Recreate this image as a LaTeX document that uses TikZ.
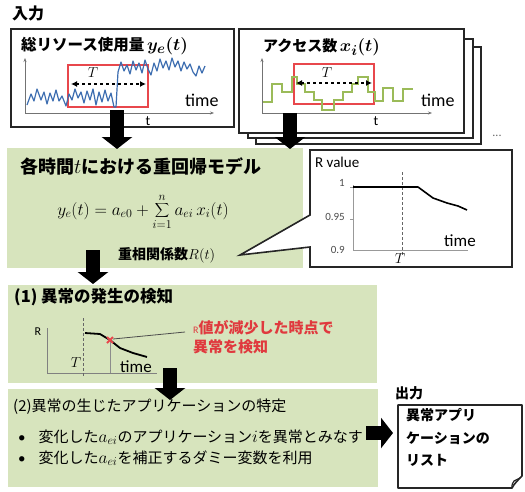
\documentclass[tikz,border=0pt]{standalone}
\usepackage{fontspec}
\setmainfont{Carlito}
\newfontfamily\jp{Noto Sans CJK JP}
\usetikzlibrary{arrows.meta}
\definecolor{gfill}{HTML}{D7E4BD}
\definecolor{bline}{HTML}{3C6DB0}
\definecolor{gline}{HTML}{9BBB59}
\definecolor{rred}{HTML}{E8474C}
\definecolor{rtext}{HTML}{E0393E}
\newcommand\myfs[1]{\fontsize{#1}{#1}\selectfont}
\tikzset{
  frame/.style={draw=black!85, line width=1.6pt, fill=white, inner sep=0pt, anchor=north west},
  greenbox/.style={fill=gfill, draw=none, inner sep=0pt, anchor=north west},
  bigarrow/.style={line width=14pt, black, -{Triangle[width=30pt,length=12pt]}},
  axisline/.style={draw=black!55, line width=0.8pt},
  axisarrow/.style={draw=black!55, line width=0.8pt, -{Stealth[length=4pt,width=3pt]}},
  redrect/.style={draw=rred, line width=1.2pt},
  dashdbl/.style={dashed, line width=1.6pt, {Latex[length=6pt,width=6pt]}-{Latex[length=6pt,width=6pt]}},
  lbl/.style={inner sep=0pt, anchor=west},
}
\begin{document}
\begin{tikzpicture}[x=1pt,y=-1pt]
\useasboundingbox (0,0) rectangle (525,491);
\fill[white] (0,0) rectangle (525,491);

% ---------- input ----------
\node[lbl] (inlbl) at (12,13) {\myfs{16}\jp\bfseries 入力};

% box 1
\node[frame, minimum width=223pt, minimum height=98pt] (box1) at (10,28) {};
\node[lbl] (t1) at (21,46) {\myfs{15.5}{\jp\bfseries 総リソース使用量}\,{\myfs{19}\boldmath$y_e(t)$}};
\draw[axisarrow] (25,113) -- (25,58);
\draw[axisarrow] (25,113) -- (214,113);
\draw[redrect] (68,65) rectangle (148,107);
\draw[bline, line width=1.2pt, line join=round]
 (27,105) -- (31,94) -- (34,101) -- (37,89) -- (41,100) -- (44,92) -- (47,104) -- (50,93) -- (53,101) -- (56,90) -- (59,101) -- (62,96) -- (66,106) -- (69,94) -- (72,100) -- (75,89) -- (78,98) -- (81,92) -- (84,103) -- (87,91) -- (90,100) -- (93,89) -- (96,105) -- (99,92) -- (102,102) -- (105,90) -- (108,101) -- (111,93) -- (114,107) -- (116,107) -- (118,72)
 -- (121,62) -- (124,71) -- (127,65) -- (130,74) -- (133,61) -- (136,70) -- (139,63) -- (142,73) -- (145,60) -- (148,69) -- (151,75) -- (154,63) -- (157,71) -- (160,59) -- (163,68) -- (166,61) -- (169,70) -- (172,58) -- (175,67) -- (178,61) -- (181,71) -- (184,62) -- (187,69) -- (190,64) -- (193,72) -- (196,76) -- (199,66) -- (202,73) -- (205,66);
\draw[dashdbl] (71,84) -- (146,84);
\node[inner sep=0pt] (T1) at (93,73) {\myfs{14}$T$};
\node[lbl] (time1) at (185,100) {\myfs{18}time};
\node[inner sep=0pt] (tt1) at (148,121) {\myfs{14}t};

% box 2 stack
\node[frame, minimum width=225pt, minimum height=97pt] (box2c) at (255,46) {};
\node[frame, minimum width=225pt, minimum height=99pt] (box2b) at (247,38) {};
\node[frame, minimum width=225pt, minimum height=104pt] (box2) at (238,28) {};
\node[lbl] (t2) at (263,47) {\myfs{15}{\jp\bfseries アクセス数}\,{\myfs{19}\boldmath$x_i(t)$}};
\draw[axisarrow] (262,113) -- (262,58);
\draw[axisarrow] (262,113) -- (432,113);
\draw[redrect] (294,64) rectangle (374,104);
\draw[gline, line width=1.2pt]
 (263,102) -- (272,102) -- (272,84) -- (282,84) -- (282,92) -- (292,92) -- (292,77) -- (297,77) -- (297,84) -- (305,84) -- (305,92) -- (314,92) -- (314,100) -- (322,100) -- (322,110) -- (334,110) -- (334,100) -- (343,100) -- (343,92) -- (352,92) -- (352,84) -- (358,84) -- (358,77) -- (368,77) -- (368,92) -- (375,92) -- (375,101) -- (383,101) -- (383,88) -- (393,88) -- (393,101) -- (403,101) -- (403,89) -- (413,89);
\draw[dashdbl] (296,83) -- (372,83);
\node[inner sep=0pt] (T2) at (327,73) {\myfs{14}$T$};
\node[lbl] (time2) at (421,100) {\myfs{18}time};
\node[inner sep=0pt] (tt2) at (376,121) {\myfs{14}t};
\node[inner sep=0pt] (dots) at (497,136) {\myfs{12}\textcolor{black!60}{...}};

% ---------- green 1 ----------
\node[greenbox, minimum width=296pt, minimum height=120pt] (green1) at (7,148) {};
\node[lbl] (g1t) at (20,166) {\myfs{18}{\jp\bfseries 各時間}{\myfs{20}$t$}{\jp\bfseries における重回帰モデル}};
\node[inner sep=0pt] (formula) at (143,212) {\myfs{17.28}$\displaystyle y_e(t) = a_{e0} + \sum_{i=1}^{n} a_{ei}\,x_i(t)$};
\node[lbl] (rt) at (118,255) {\myfs{14}{\jp\bfseries 重相関係数}{\myfs{15}$R(t)$}};

% R value callout
\draw[draw=black!85, line width=1.6pt, fill=white, line join=miter]
 (310,150) -- (512,150) -- (512,267) -- (310,267) -- (310,247) -- (240,255) -- (310,215) -- cycle;
\coordinate (rbox) at (411,208);
\node[lbl] (rv) at (315,162) {\myfs{15}R value};
\draw[axisline, black!40] (353,185) -- (353,250) -- (468,250);
\draw[black!40] (350,187) -- (353,187) (350,219) -- (353,219);
\node[inner sep=0pt, anchor=east] (l1) at (345,183) {\myfs{11}\textcolor{black!70}{1}};
\node[inner sep=0pt, anchor=east] (l095) at (345,217) {\myfs{11}\textcolor{black!70}{0.95}};
\node[inner sep=0pt, anchor=east] (l09) at (345,250) {\myfs{11}\textcolor{black!70}{0.9}};
\draw[densely dashed, black!60, line width=0.8pt] (402,172) -- (402,256);
\draw[line width=1.6pt, line join=round] (353,187) -- (418,187) -- (433,198) -- (447,203) -- (458,206) -- (467,210);
\node[inner sep=0pt] (Tr) at (400,259) {\myfs{14}$T$};
\node[lbl] (timer) at (444,241) {\myfs{17}time};

% ---------- green 2 ----------
\node[greenbox, minimum width=369pt, minimum height=98pt] (green2) at (8,285) {};
\node[lbl] (g2t) at (14,297) {\myfs{16.5}\jp\bfseries (1) 異常の発生の検知};
\node[inner sep=0pt] (Rl) at (38,332) {\myfs{12}R};
\draw[axisline, black!50] (47,328) -- (47,373) -- (157,373);
\draw[densely dashed, black!60, line width=0.8pt] (83,318) -- (83,377);
\draw[black!45, line width=0.6pt] (110,340) -- (110,373);
\draw[line width=1.8pt, line join=round] (85,333) -- (100,334) -- (110,340) -- (120,348) -- (133,353) -- (147,357);
\draw[black!70, line width=0.8pt] (113,339) -- (185,332);
\draw[rred, line width=1.8pt] (107,337) -- (113,343) (107,343) -- (113,337);
\node[inner sep=0pt] (T3) at (76,363) {\myfs{14}$T$};
\node[lbl] (time3) at (120,367) {\myfs{17}time};
\node[lbl] (rtext1) at (193,328) {\myfs{15}\color{rtext}{\myfs{10}R}{\jp\bfseries 値が減少した時点で}};
\node[lbl] (rtext2) at (193,347) {\myfs{15}\color{rtext}\jp\bfseries 異常を検知};

% ---------- green 3 ----------
\node[greenbox, minimum width=370pt, minimum height=98pt] (green3) at (8,389) {};
\node[lbl] (g3t) at (13,407) {\myfs{15}\jp (2)異常の生じたアプリケーションの特定};
\node[lbl] (b1) at (18,437) {\myfs{15}\textbullet\hspace{13pt}{\jp 変化した}{\myfs{17.28}$a_{ei}$}{\jp のアプリケーション}{\myfs{17.28}$i$}{\jp を異常とみなす}};
\node[lbl] (b2) at (18,458) {\myfs{15}\textbullet\hspace{13pt}{\jp 変化した}{\myfs{17.28}$a_{ei}$}{\jp を補正するダミー変数を利用}};

% ---------- output ----------
\node[lbl] (outlbl) at (395,393) {\myfs{14}\jp\bfseries 出力};
\draw[draw=black!85, line width=1.6pt, fill=white, line join=round]
 (398,405) -- (522,405) -- (522,476) .. controls (518,480) and (514,484) .. (512,488) -- (398,488) -- cycle;
\draw[black!85, line width=1.2pt] (512,488) .. controls (512,484) .. (514,481) -- (520,478);
\coordinate (outbox) at (460,446);
\node[lbl] (o1) at (406,415) {\myfs{14}\jp\bfseries 異常アプリ};
\node[lbl] (o2) at (406,438) {\myfs{14}\jp\bfseries ケーションの};
\node[lbl] (o3) at (406,460) {\myfs{14}\jp\bfseries リスト};

% ---------- big arrows ----------
\coordinate (a1s) at (117,110); \coordinate (a1e) at (117,149);
\coordinate (a2s) at (290,113); \coordinate (a2e) at (290,149);
\coordinate (a3s) at (93,250);  \coordinate (a3e) at (93,284);
\coordinate (a4s) at (170,368); \coordinate (a4e) at (170,400);
\coordinate (a5s) at (366,433); \coordinate (a5e) at (393,433);
\draw[bigarrow] (a1s) -- (a1e);
\draw[bigarrow] (a2s) -- (a2e);
\draw[bigarrow] (a3s) -- (a3e);
\draw[bigarrow] (a4s) -- (a4e);
\draw[bigarrow] (a5s) -- (a5e);
\end{tikzpicture}
\end{document}
